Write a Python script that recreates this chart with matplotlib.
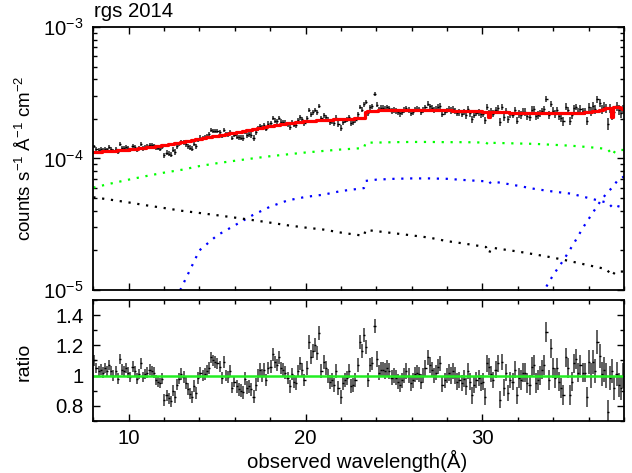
import numpy as np
import matplotlib
matplotlib.use("Agg")
import matplotlib.pyplot as plt
from matplotlib.ticker import MultipleLocator, LogLocator, NullFormatter

plt.rcParams['font.family'] = ['Liberation Sans', 'DejaVu Sans']
plt.rcParams['mathtext.fontset'] = 'custom'
plt.rcParams['mathtext.rm'] = 'Liberation Sans'
plt.rcParams['mathtext.default'] = 'regular'
plt.rcParams['font.size'] = 14.7

# bins: centre of first bin, width (Angstrom), number of bins
bin_start = 8.06
bin_width = 0.12
n_bins = 250

# total model in each bin (1e-4 counts/s/A/cm2)
model = [
    1.121, 1.124, 1.126, 1.128, 1.131, 1.133, 1.136, 1.138, 1.140, 1.143,
    1.148, 1.151, 1.155, 1.159, 1.162, 1.166, 1.169, 1.174, 1.179, 1.184,
    1.188, 1.193, 1.198, 1.203, 1.208, 1.213, 1.219, 1.225, 1.231, 1.237,
    1.243, 1.249, 1.255, 1.261, 1.270, 1.278, 1.287, 1.295, 1.303, 1.312,
    1.320, 1.329, 1.338, 1.348, 1.357, 1.367, 1.376, 1.386, 1.396, 1.405,
    1.415, 1.424, 1.434, 1.444, 1.453, 1.463, 1.472, 1.482, 1.492, 1.501,
    1.511, 1.520, 1.530, 1.540, 1.549, 1.559, 1.568, 1.579, 1.590, 1.601,
    1.611, 1.622, 1.633, 1.644, 1.655, 1.666, 1.678, 1.690, 1.702, 1.714,
    1.726, 1.738, 1.750, 1.762, 1.773, 1.783, 1.794, 1.805, 1.816, 1.827,
    1.837, 1.848, 1.857, 1.865, 1.874, 1.882, 1.891, 1.899, 1.907, 1.916,
    1.922, 1.927, 1.932, 1.937, 1.942, 1.946, 1.951, 1.956, 1.961, 1.964,
    1.968, 1.971, 1.975, 1.979, 1.982, 1.986, 1.989, 1.993, 1.997, 2.000,
    2.004, 2.007, 2.011, 2.015, 2.018, 2.022, 2.025, 2.028, 2.270, 2.280,
    2.290, 2.300, 2.310, 2.315, 2.320, 2.322, 2.325, 2.328, 2.330, 2.332,
    2.335, 2.337, 2.338, 2.339, 2.340, 2.340, 2.340, 2.340, 2.340, 2.340,
    2.340, 2.340, 2.340, 2.340, 2.340, 2.338, 2.337, 2.336, 2.335, 2.334,
    2.333, 2.332, 2.330, 2.328, 2.326, 2.324, 2.322, 2.320, 2.318, 2.315,
    2.312, 2.309, 2.306, 2.303, 2.300, 2.297, 2.294, 2.291, 2.288, 2.285,
    2.282, 2.279, 2.276, 2.273, 2.270, 2.268, 2.080, 2.263, 2.260, 2.257,
    2.254, 2.251, 2.248, 2.245, 2.242, 2.239, 2.236, 2.233, 2.230, 2.228,
    2.226, 2.224, 2.222, 2.220, 2.218, 2.216, 2.214, 2.212, 2.210, 2.209,
    2.208, 2.207, 2.206, 2.205, 2.205, 2.205, 2.205, 2.206, 2.207, 2.208,
    2.210, 2.212, 2.214, 2.216, 2.218, 2.220, 2.222, 2.225, 2.228, 2.232,
    2.236, 2.242, 2.250, 2.260, 2.270, 2.280, 2.295, 2.310, 2.330, 2.350,
    2.380, 2.400, 2.420, 2.440, 2.080, 2.460, 2.480, 2.480, 2.420, 2.360,
]

# data / model in each bin
ratio = [
    1.10, 1.05, 1.03, 1.04, 1.02, 1.05, 1.03, 1.07, 1.03, 1.00,
    1.03, 0.98, 1.11, 1.04, 1.03, 1.05, 1.02, 0.99, 1.06, 1.03,
    0.98, 1.01, 1.08, 0.99, 1.01, 1.02, 1.04, 1.03, 1.02, 0.97,
    0.96, 0.95, 0.98, 0.84, 0.87, 0.85, 0.83, 0.90, 0.86, 0.94,
    0.98, 1.01, 0.99, 0.95, 0.91, 0.88, 0.86, 0.93, 0.885, 0.985,
    1.02, 1.00, 1.01, 1.03, 1.05, 1.12, 1.10, 1.09, 1.08, 1.06,
    0.985, 1.09, 1.00, 0.99, 1.03, 0.92, 0.96, 0.93, 0.91, 0.90,
    0.89, 0.98, 0.92, 0.93, 0.91, 0.86, 0.94, 1.00, 1.04, 1.00,
    1.04, 0.97, 1.05,
    1.06, 1.14, 1.09, 1.07, 1.12, 1.05, 1.04, 1.02, 0.985, 0.93,
    1.01, 0.96, 0.95, 1.03, 1.08, 1.04, 0.97, 1.05, 1.22, 1.12,
    1.16, 1.20, 1.15, 1.28, 1.03, 1.09, 1.05, 1.00, 0.96, 0.97,
    0.94, 1.03, 0.92, 0.86, 0.95, 0.97, 0.985, 1.03, 0.93, 0.94,
    0.97, 1.07, 1.22, 1.16, 1.27, 1.19, 0.97, 1.07, 1.08, 1.33,
    1.11, 1.02, 1.04, 1.04, 1.03, 1.05, 1.03, 0.985, 1.00, 0.985,
    0.96, 0.94, 0.97, 1.00, 1.03, 1.00, 0.95, 0.97, 1.01, 1.02,
    1.01, 0.96, 1.00, 1.05, 1.12, 1.07, 1.04, 1.00, 1.02, 1.06,
    1.08, 0.94, 0.97, 1.00,
    1.02, 1.00, 1.03, 1.00, 0.96, 0.97, 0.95, 0.98, 0.93, 1.03,
    0.96, 0.87, 0.94, 0.97, 0.985, 0.95, 0.96, 0.86, 1.08, 1.06,
    1.01, 0.97, 1.04, 1.08, 0.84, 1.09, 0.92, 1.02, 0.885, 0.97,
    0.96, 1.04, 0.87, 0.985, 0.97, 1.02, 1.02, 0.95, 0.94, 1.06,
    1.07, 0.95, 0.97, 1.00, 1.04, 1.07, 1.29, 0.97, 1.18, 1.05,
    0.985, 1.05, 0.96, 0.92, 0.87, 1.12, 1.05, 0.87, 0.96, 1.08,
    1.11, 1.02, 1.07, 1.02, 1.02, 0.86, 1.09, 1.00, 1.09, 1.03,
    1.22, 1.13, 1.01, 1.04, 1.00, 0.76, 0.985, 1.03, 0.92, 1.01,
    0.94, 0.92, 1.00,
]

# ratio error by wavelength range
err_edges = [8, 12, 16, 20, 24, 28, 32, 36, 38]
err_vals = [0.035, 0.038, 0.042, 0.046, 0.05, 0.055, 0.065, 0.08]

# model components (1e-4 units)
green_wl = [8, 9, 10, 11, 12, 13, 14, 15, 16, 17, 18, 19, 20, 21, 22, 23.3, 23.4,
            24, 25, 26, 27, 28, 29, 30.2, 30.38, 30.5, 31, 32, 33, 34, 35, 36,
            36.8, 37.1, 37.34, 37.5, 37.7, 38]
green = [0.60, 0.645, 0.69, 0.735, 0.78, 0.82, 0.875, 0.92, 0.96, 1.00, 1.04, 1.075,
         1.11, 1.14, 1.17, 1.20, 1.32, 1.32, 1.33, 1.335, 1.335, 1.33, 1.33, 1.32,
         1.27, 1.315, 1.31, 1.30, 1.29, 1.27, 1.25, 1.22, 1.19, 1.17, 1.06, 1.14,
         1.16, 1.16]

blue_wl = [12.5, 12.92, 13.5, 14, 15, 16, 17, 18, 19, 20, 21, 22, 23.3, 23.4, 24,
           25, 26, 27, 28, 29, 30.2, 30.38, 30.5, 31, 32, 33, 34, 35, 36, 36.8,
           37.1, 37.34, 37.5, 38]
blue = [0.075, 0.10, 0.145, 0.20, 0.26, 0.31, 0.37, 0.43, 0.48, 0.51, 0.53, 0.565,
        0.595, 0.675, 0.69, 0.70, 0.705, 0.705, 0.70, 0.685, 0.67, 0.645, 0.665,
        0.655, 0.62, 0.585, 0.56, 0.54, 0.50, 0.47, 0.46, 0.425, 0.44, 0.42]

blue2_wl = [33.2, 33.5, 34, 34.6, 35.2, 35.7, 36.2, 36.7, 37.1, 37.34, 37.6, 38]
blue2 = [0.08, 0.10, 0.13, 0.17, 0.23, 0.30, 0.38, 0.48, 0.56, 0.60, 0.67, 0.73]

black_wl = [8, 9, 10, 11, 12, 13, 14, 15, 16, 17, 18, 19, 20, 21, 22, 23.3, 23.4,
            24, 25, 26, 27, 28, 29, 30.2, 30.38, 30.5, 31, 32, 33, 34, 35, 36, 37,
            37.34, 37.5, 38]
black = [0.507, 0.485, 0.463, 0.44, 0.42, 0.40, 0.385, 0.37, 0.355, 0.34, 0.325,
         0.31, 0.298, 0.288, 0.273, 0.258, 0.286, 0.28, 0.27, 0.26, 0.25, 0.235,
         0.225, 0.212, 0.19, 0.21, 0.205, 0.196, 0.186, 0.176, 0.165, 0.154, 0.144,
         0.128, 0.138, 0.138]

scale = 1e-4
wl = bin_start + bin_width * np.arange(n_bins)
model = np.array(model) * scale
ratio = np.array(ratio)
rerr = np.array(err_vals)[np.searchsorted(err_edges, wl, side='right') - 1]
flux = model * ratio
ferr = model * rerr

fig = plt.figure(figsize=(6.32, 4.73), dpi=100)
ax1 = fig.add_axes([0.1476, 0.387, 0.8397, 0.556])
ax2 = fig.add_axes([0.1476, 0.110, 0.8397, 0.2558])

dots = (0, (1, 3))
ax1.plot(green_wl, np.array(green) * scale, color='#00ff00', lw=1.6, ls=dots)
ax1.plot(blue_wl, np.array(blue) * scale, color='#0000ff', lw=1.6, ls=dots)
ax1.plot(blue2_wl, np.array(blue2) * scale, color='#0000ff', lw=1.6, ls=dots)
ax1.plot(black_wl, np.array(black) * scale, color='black', lw=1.6, ls=dots)

# vertical error bars grey-ish, bin widths black
ax1.errorbar(wl, flux, yerr=ferr, fmt='none', ecolor='#3a3a3a', elinewidth=1.2)
ax1.errorbar(wl, flux, xerr=bin_width / 2, fmt='none', ecolor='black', elinewidth=1.0)
ax1.step(wl, model, where='mid', color='red', lw=2.3)

ax2.errorbar(wl, ratio, yerr=rerr, fmt='none', ecolor='#444444', elinewidth=1.2)
ax2.errorbar(wl, ratio, xerr=bin_width / 2, fmt='none', ecolor='black', elinewidth=1.0)
ax2.axhline(1.0, color='#22ee22', lw=1.8)

ax1.set_yscale('log')
ax1.set_ylim(1e-5, 1e-3)
ax1.yaxis.set_major_locator(LogLocator(base=10))
ax1.yaxis.set_minor_locator(LogLocator(base=10, subs=np.arange(2, 10)))
ax1.yaxis.set_minor_formatter(NullFormatter())

ax2.set_ylim(0.7, 1.5)
ax2.set_yticks([0.8, 1.0, 1.2, 1.4])
ax2.set_yticklabels(['0.8', '1', '1.2', '1.4'])
ax2.yaxis.set_minor_locator(MultipleLocator(0.1))

for ax in (ax1, ax2):
    ax.set_xlim(8, 38)
    ax.xaxis.set_major_locator(MultipleLocator(10))
    ax.xaxis.set_minor_locator(MultipleLocator(2))
    ax.tick_params(which='both', direction='in', top=True, right=True, width=1.0)
    ax.tick_params(which='major', length=5, pad=7)
    ax.tick_params(which='minor', length=3)
    for s in ax.spines.values():
        s.set_linewidth(1.3)
ax1.tick_params(labelbottom=False)
ax2.tick_params(axis='x', which='major', pad=6)

fig.text(0.148, 0.964, 'rgs 2014', ha='left', va='baseline')
fig.text(0.040, 0.665, r'counts s$^{-1}$ Å$^{-1}$ cm$^{-2}$', rotation=90,
         ha='center', va='center', fontsize=13.5)
fig.text(0.038, 0.235, 'ratio', rotation=90, ha='center', va='center', fontsize=14)
fig.text(0.565, 0.011, 'observed wavelength(Å)', ha='center', va='baseline')

fig.savefig('out.png', dpi=100)
